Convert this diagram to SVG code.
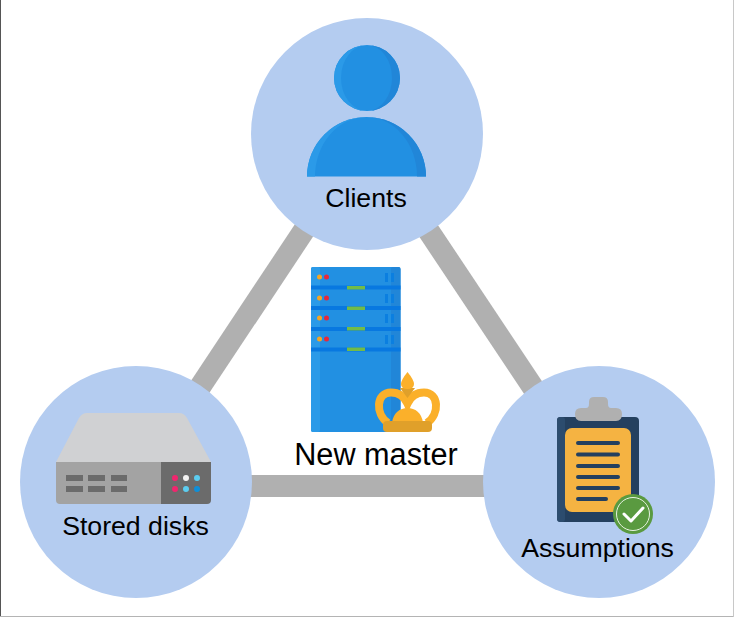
<svg xmlns="http://www.w3.org/2000/svg" width="734" height="617" viewBox="0 0 734 617">
<style>
.bubble{fill:#b4ccf0}
.link{stroke:#b0b0b0;stroke-width:22;fill:none}
text{font-family:"Liberation Sans",Arial,sans-serif;font-size:26.67px;fill:#000;text-anchor:middle}
.slot{fill:#6b6b6b}
.band{fill:#0878e0}
.led{fill:#f5a623}
.red{fill:#e8283a}
.grn{fill:#72bb48}
.vent{fill:#0b7fe0}
.ln{stroke:#24405f;stroke-width:4;stroke-linecap:round}
</style>
<rect width="734" height="617" fill="#fff"/>
<path d="M0.5 0V617" stroke="#555" stroke-width="1"/>
<path d="M0 616.500H734" stroke="#b4b4b4" stroke-width="1"/>
<path d="M733.500 0V617" stroke="#c8c8c8" stroke-width="1"/>
<g id="connectors">
<path class="link" d="M368 134L137 482"/>
<path class="link" d="M364 134L596 482"/>
<path class="link" d="M136 486H599"/>
</g>
<g id="clients">
<circle class="bubble" cx="367" cy="134" r="116"/>
<circle cx="367" cy="78" r="33" fill="#2290e2"/>
<path d="M367 45A33 33 0 0 0 367 111A26 33 0 0 1 367 45Z" fill="#2b9ae8"/>
<path d="M367 45A33 33 0 0 1 367 111A25 33 0 0 0 367 45Z" fill="#2186d8"/>
<path d="M307 176.500A59.500 59.500 0 0 1 426 176.500Z" fill="#2290e2"/>
<path d="M366.500 117A59.500 59.500 0 0 0 307 176.500H315A51.500 59.500 0 0 1 366.500 117Z" fill="#2b9ae8"/>
<path d="M366.500 117A59.500 59.500 0 0 1 426 176.500H417A50.500 59.500 0 0 0 366.500 117Z" fill="#2186d8"/>
<text x="366" y="207">Clients</text>
</g>
<g id="stored-disks">
<circle class="bubble" cx="136" cy="482" r="116"/>
<path d="M56 462L79 418Q82 413 87 413H179Q184 413 187 418L211 462Z" fill="#d0d1d3"/>
<path d="M56 462H161V504H60Q56 504 56 500Z" fill="#a3a3a3"/>
<path d="M161 462H211V500Q211 504 207 504H161Z" fill="#6b6b6b"/>
<rect class="slot" x="66" y="475" width="17" height="6"/><rect class="slot" x="88" y="475" width="17" height="6"/><rect class="slot" x="111" y="475" width="16" height="6"/>
<rect class="slot" x="66" y="486" width="17" height="6"/><rect class="slot" x="88" y="486" width="17" height="6"/><rect class="slot" x="111" y="486" width="16" height="6"/>
<circle cx="175" cy="478" r="3" fill="#f0266e"/><circle cx="186" cy="478" r="3" fill="#f2f2f2"/><circle cx="197" cy="478" r="3" fill="#5ccdf0"/>
<circle cx="175" cy="489" r="3" fill="#f0266e"/><circle cx="186" cy="489" r="3" fill="#5ccdf0"/><circle cx="197" cy="489" r="3" fill="#0f8fd8"/>
<text x="135.500" y="535">Stored disks</text>
</g>
<g id="assumptions">
<circle class="bubble" cx="599" cy="482" r="116"/>
<rect x="557" y="417" width="82" height="105" rx="4" fill="#24405f"/>
<rect x="557" y="417" width="8" height="105" rx="3" fill="#2c4c6e"/>
<path d="M575 414Q575 408 581 408H586Q589 408 589 404V402Q589 397 594 397H603Q608 397 608 402V404Q608 408 611 408H616Q622 408 622 414Q622 421 616 421H581Q575 421 575 414Z" fill="#b0b0b0"/>
<rect x="565" y="428" width="66" height="84" rx="7" fill="#f5b342"/>
<path class="ln" d="M578 443H618M578 454.500H618M578 466H618M578 477H618M578 488H618M578 499H606"/>
<circle cx="633" cy="514" r="20" fill="#5a9a40"/>
<circle cx="633" cy="514" r="16.500" fill="none" stroke="#e8f2e2" stroke-width="1"/>
<path d="M624 514L631 521L643 508" fill="none" stroke="#fff" stroke-width="3" stroke-linecap="round" stroke-linejoin="round"/>
<text x="597.500" y="557">Assumptions</text>
</g>
<g id="new-master">
<rect x="311" y="267" width="89.500" height="165" rx="2" fill="#2290e2"/>
<rect x="311" y="267" width="9" height="165" rx="2" fill="#2b9ae8"/>
<rect x="391" y="267" width="9.500" height="165" rx="2" fill="#2186d8"/>
<rect class="band" x="311" y="285.500" width="89.500" height="4"/><rect class="band" x="311" y="306" width="89.500" height="4"/><rect class="band" x="311" y="327" width="89.500" height="4"/><rect class="band" x="311" y="347.500" width="89.500" height="4"/>
<rect class="grn" x="347" y="286" width="18" height="3.500"/><rect class="grn" x="347" y="306.500" width="18" height="3.500"/><rect class="grn" x="347" y="327" width="18" height="3.500"/><rect class="grn" x="347" y="347.500" width="18" height="3.500"/>
<circle class="led" cx="319.500" cy="277" r="2.500"/><circle class="red" cx="326.500" cy="277" r="2.500"/>
<circle class="led" cx="319.500" cy="298" r="2.500"/><circle class="red" cx="326.500" cy="298" r="2.500"/>
<circle class="led" cx="319.500" cy="318" r="2.500"/><circle class="red" cx="326.500" cy="318" r="2.500"/>
<circle class="led" cx="319.500" cy="339" r="2.500"/><circle class="red" cx="326.500" cy="339" r="2.500"/>
<rect class="vent" x="385" y="273" width="3" height="9"/><rect class="vent" x="391" y="273" width="3" height="9"/>
<rect class="vent" x="385" y="294" width="3" height="9"/><rect class="vent" x="391" y="294" width="3" height="9"/>
<rect class="vent" x="385" y="314" width="3" height="9"/><rect class="vent" x="391" y="314" width="3" height="9"/>
<rect class="vent" x="385" y="335" width="3" height="9"/><rect class="vent" x="391" y="335" width="3" height="9"/>
<path d="M388 423C375 414 376 392.500 391 392.500C400 392.500 405 398 407.500 403.500C410 398 415 392.500 424 392.500C439 392.500 440 414 427 423" fill="none" stroke="#fbb02a" stroke-width="8"/>
<path d="M400 388L407.500 398L415 388Z" fill="#e0a02a"/>
<path d="M407.500 372Q401 380 401 384Q401 389 407.500 389Q414 389 414 384Q414 380 407.500 372Z" fill="#fbb02a"/>
<path d="M392 423C393 413 400 408 407.500 408C415 408 422 413 423 423Z" fill="#fbb02a"/>
<rect x="383" y="421" width="49" height="11" rx="4" fill="#e0a02a"/>
<text x="376" y="465" style="font-size:30.670px">New master</text>
</g>
</svg>
